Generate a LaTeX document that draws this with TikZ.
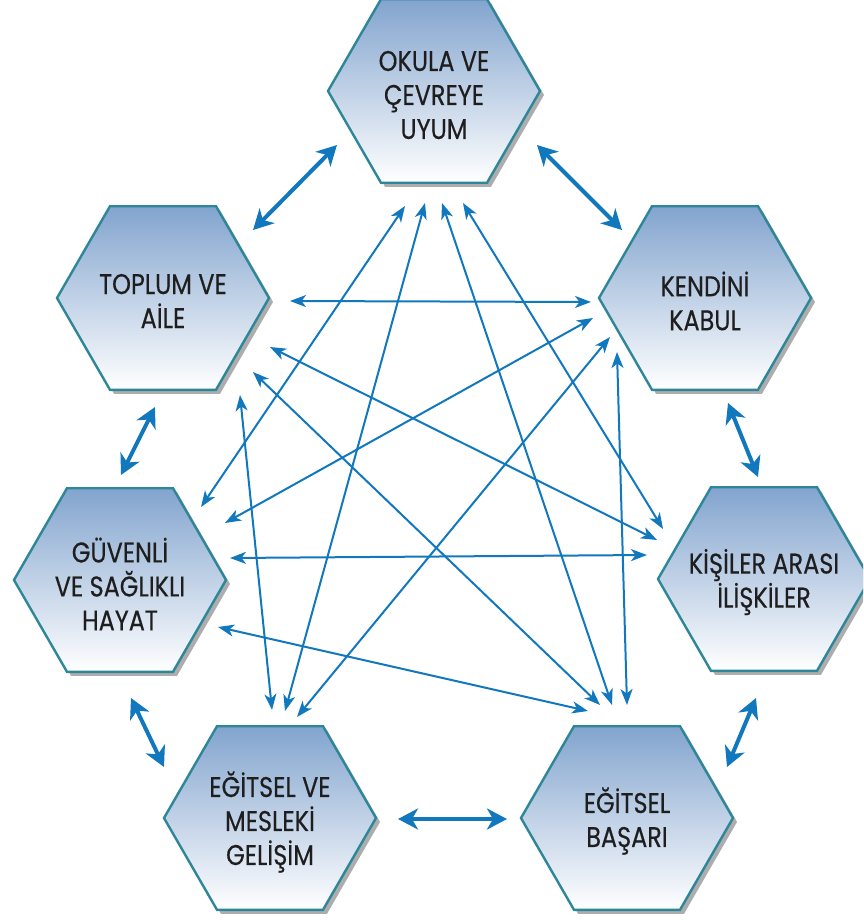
\documentclass[tikz,border=0pt]{standalone}
\usepackage{fontspec}
\newfontfamily\hexfont[FakeStretch=0.84,FakeBold=0.4]{Poppins}
\usetikzlibrary{shapes.geometric,arrows.meta,shadows}
\definecolor{arrowblue}{RGB}{18,120,190}
\definecolor{hexborder}{RGB}{46,134,153}
\definecolor{hextop}{RGB}{130,164,206}
\definecolor{hextext}{RGB}{30,30,30}
\begin{document}
\begin{tikzpicture}[x=1pt,y=-1pt,
  hex/.style={regular polygon, regular polygon sides=6, minimum size=212pt,
    inner sep=0pt, outer sep=0pt, draw=hexborder, line width=2.4pt,
    top color=hextop, bottom color=white,
    drop shadow={shadow xshift=4pt, shadow yshift=-4pt, opacity=0.4, fill=black!80}},
  hexlabel/.style={font=\hexfont\fontsize{28.5}{34}\selectfont, text=hextext,
    align=center, inner sep=0pt},
  thinarrow/.style={draw=arrowblue, line width=2pt,
    {Stealth[length=16pt,width=12pt,inset=4.5pt]}-{Stealth[length=16pt,width=12pt,inset=4.5pt]}},
  thickarrow/.style={draw=arrowblue, line width=4pt,
    {Stealth[length=20pt,width=21pt,inset=6pt]}-{Stealth[length=20pt,width=21pt,inset=6pt]}},
]
\useasboundingbox (0,0) rectangle (863,920);
\clip (0,0) rectangle (863,920);
\fill[white] (0,0) rectangle (863,920);

% hexagons
\node[hex] (O) at (434,91) {};
\node[hex] (T) at (163,298) {};
\node[hex] (G) at (120,580) {};
\node[hex] (M) at (270,818) {};
\node[hex] (B) at (627,818) {};
\node[hex] (K) at (705,298) {};
\node[hex] (I) at (764,579) {};

% labels
\node[hexlabel] (Ot) at (434,95) {OKULA VE\\ÇEVREYE\\UYUM};
\node[hexlabel] (Tt) at (163,301) {TOPLUM VE\\AİLE};
\node[hexlabel] (Gt) at (120,584) {GÜVENLİ\\VE SAĞLIKLI\\HAYAT};
\node[hexlabel] (Mt) at (270,822) {EĞİTSEL VE\\MESLEKİ\\GELİŞİM};
\node[hexlabel] (Bt) at (627,821) {EĞİTSEL\\BAŞARI};
\node[hexlabel] (Kt) at (705,301) {KENDİNİ\\KABUL};
\node[hexlabel] (It) at (764,582) {KİŞİLER ARASI\\İLİŞKİLER};

% thick arrow ends
\coordinate (OT1) at (337,145); \coordinate (OT2) at (253,230);
\coordinate (OK1) at (537,145); \coordinate (OK2) at (622,230);
\coordinate (TG1) at (155,407); \coordinate (TG2) at (121,475);
\coordinate (KI1) at (728,403); \coordinate (KI2) at (758,477);
\coordinate (GM1) at (131,698); \coordinate (GM2) at (164,767);
\coordinate (IB1) at (756,698); \coordinate (IB2) at (727,767);
\coordinate (MB1) at (398,819); \coordinate (MB2) at (507,819);

\draw[thickarrow] (OT1) -- (OT2);
\draw[thickarrow] (OK1) -- (OK2);
\draw[thickarrow] (TG1) -- (TG2);
\draw[thickarrow] (KI1) -- (KI2);
\draw[thickarrow] (GM1) -- (GM2);
\draw[thickarrow] (IB1) -- (IB2);
\draw[thickarrow] (MB1) -- (MB2);

% thin arrow ends
\coordinate (OG1) at (405,206); \coordinate (OG2) at (201,507);
\coordinate (OM1) at (425,203); \coordinate (OM2) at (285,711);
\coordinate (OB1) at (442,203); \coordinate (OB2) at (612,705);
\coordinate (OI1) at (463,203); \coordinate (OI2) at (663,529);
\coordinate (TK1) at (290,301); \coordinate (TK2) at (591,302);
\coordinate (TI1) at (270,347); \coordinate (TI2) at (657,540);
\coordinate (TB1) at (253,372); \coordinate (TB2) at (600,705);
\coordinate (TM1) at (240,395); \coordinate (TM2) at (272,710);
\coordinate (GK1) at (225,523); \coordinate (GK2) at (593,318);
\coordinate (GI1) at (230,558); \coordinate (GI2) at (647,555);
\coordinate (GB1) at (218,627); \coordinate (GB2) at (588,711);
\coordinate (KM1) at (610,337); \coordinate (KM2) at (297,717);
\coordinate (KB1) at (617,352); \coordinate (KB2) at (627,705);

\draw[thinarrow] (OG1) -- (OG2);
\draw[thinarrow] (OM1) -- (OM2);
\draw[thinarrow] (OB1) -- (OB2);
\draw[thinarrow] (OI1) -- (OI2);
\draw[thinarrow] (TK1) -- (TK2);
\draw[thinarrow] (TI1) -- (TI2);
\draw[thinarrow] (TB1) -- (TB2);
\draw[thinarrow] (TM1) -- (TM2);
\draw[thinarrow] (GK1) -- (GK2);
\draw[thinarrow] (GI1) -- (GI2);
\draw[thinarrow] (GB1) -- (GB2);
\draw[thinarrow] (KM1) -- (KM2);
\draw[thinarrow] (KB1) -- (KB2);
\end{tikzpicture}
\end{document}
